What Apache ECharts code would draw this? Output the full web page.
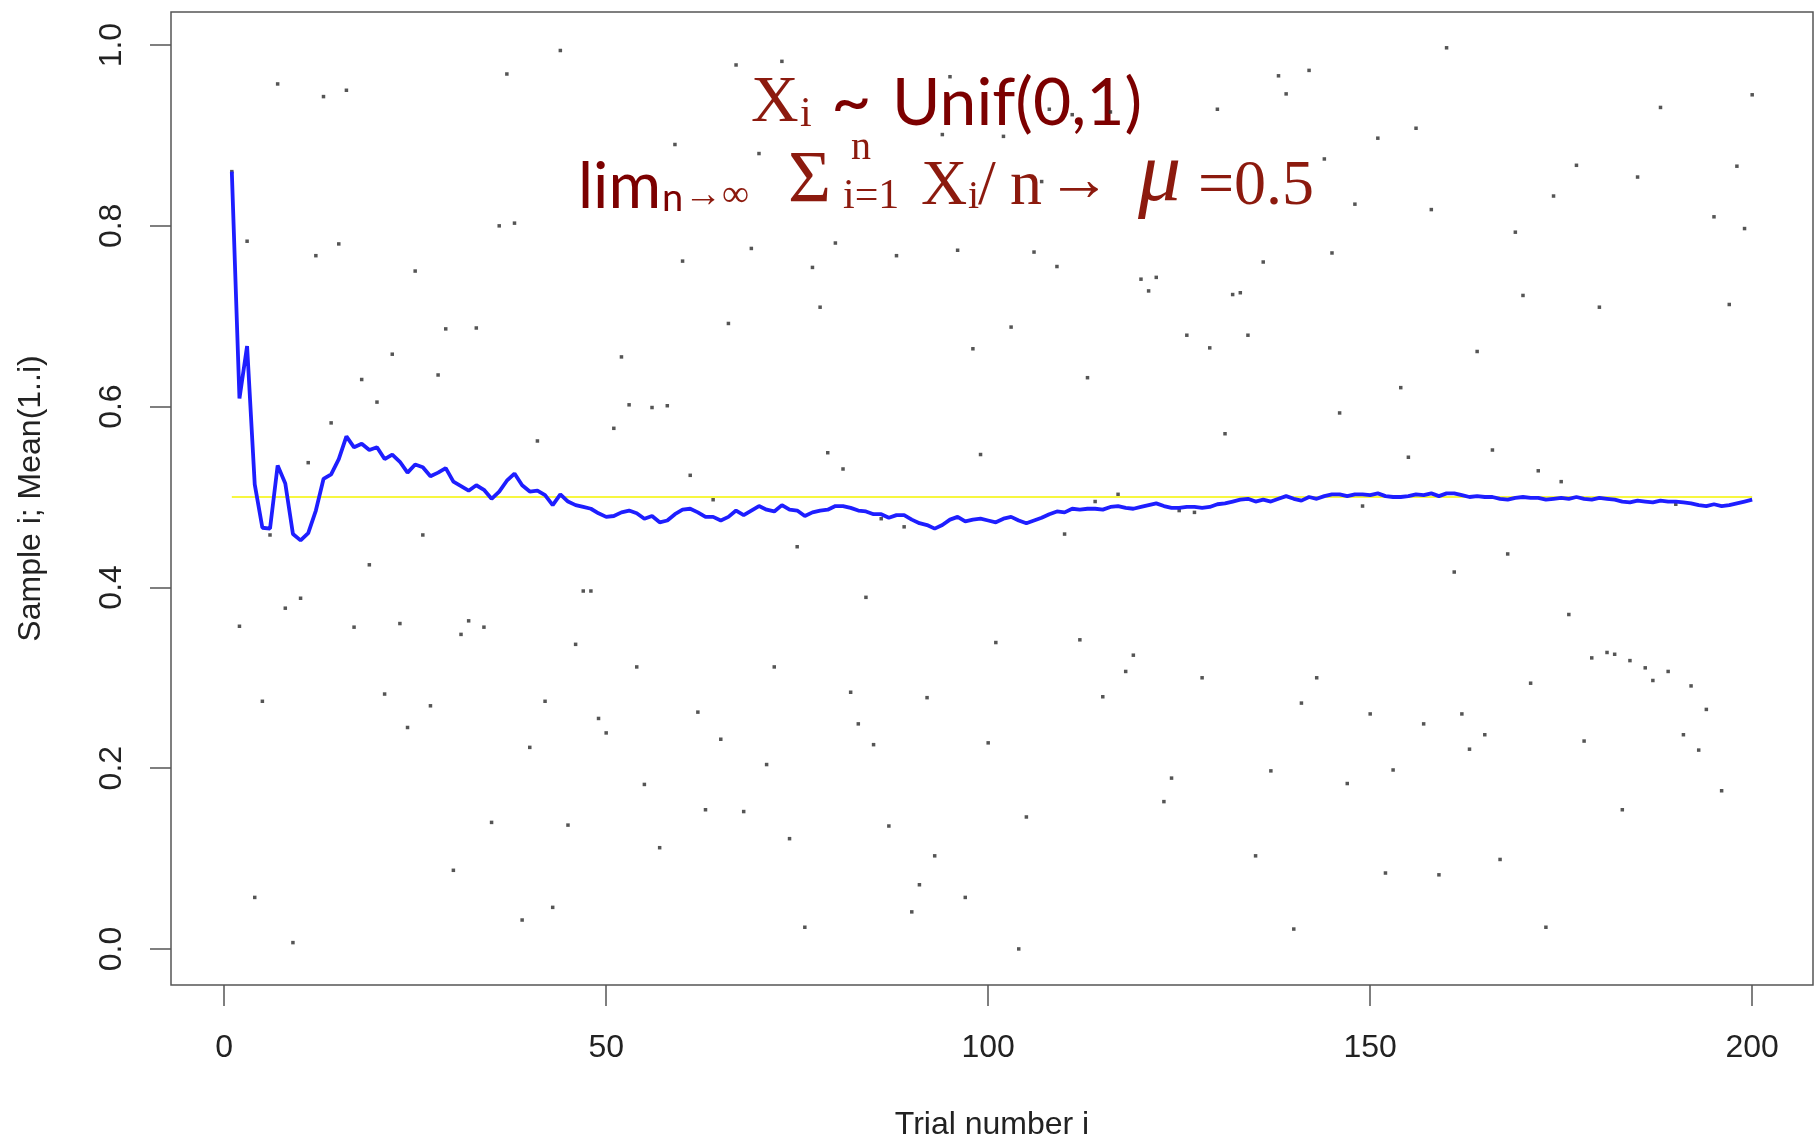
<!DOCTYPE html>
<html><head><meta charset="utf-8">
<script src="https://cdn.jsdelivr.net/npm/echarts@6/dist/echarts.min.js"></script>
<style>html,body{margin:0;padding:0;background:#fff}#c{width:1816px;height:1147px}</style>
</head><body><div id="c"></div>
<script>
// Sample i (black dots), i = 1..200
const samples = [
0.860,0.357,0.783,0.057,0.274,0.458,0.957,0.377,0.007,0.388,
0.538,0.767,0.943,0.582,0.780,0.950,0.356,0.630,0.425,0.605,
0.282,0.658,0.360,0.245,0.750,0.458,0.269,0.635,0.686,0.087,
0.348,0.363,0.687,0.356,0.140,0.800,0.968,0.803,0.032,0.223,
0.562,0.274,0.046,0.994,0.137,0.337,0.396,0.396,0.255,0.239,
0.576,0.655,0.602,0.312,0.182,0.599,0.112,0.601,0.890,0.761,
0.524,0.262,0.154,0.497,0.232,0.692,0.978,0.152,0.775,0.880,
0.204,0.312,0.982,0.122,0.445,0.024,0.754,0.710,0.549,0.781,
0.531,0.284,0.249,0.389,0.226,0.476,0.136,0.767,0.467,0.041,
0.071,0.278,0.103,0.901,0.965,0.773,0.057,0.664,0.547,0.228,
0.339,0.899,0.688,0.000,0.146,0.771,0.849,0.929,0.755,0.459,
0.923,0.342,0.632,0.495,0.279,0.926,0.503,0.307,0.325,0.741,
0.728,0.743,0.163,0.189,0.485,0.679,0.483,0.300,0.665,0.929,
0.570,0.724,0.726,0.679,0.103,0.760,0.197,0.966,0.946,0.022,
0.272,0.972,0.300,0.874,0.770,0.593,0.183,0.824,0.490,0.260,
0.897,0.084,0.198,0.621,0.544,0.908,0.249,0.818,0.082,0.997,
0.417,0.260,0.221,0.661,0.237,0.552,0.099,0.437,0.793,0.723,
0.294,0.529,0.024,0.833,0.517,0.370,0.867,0.230,0.322,0.710,
0.328,0.326,0.154,0.319,0.854,0.311,0.297,0.931,0.307,0.492,
0.237,0.291,0.220,0.265,0.810,0.175,0.713,0.866,0.797,0.945
];
// Mean(1..i) (blue line), i = 1..200
const meanLine = [
0.860,0.609,0.667,0.514,0.466,0.465,0.535,0.515,0.459,0.452,
0.460,0.485,0.520,0.525,0.542,0.567,0.555,0.559,0.552,0.555,
0.542,0.547,0.539,0.527,0.536,0.533,0.523,0.527,0.532,0.517,
0.512,0.507,0.513,0.508,0.498,0.506,0.518,0.526,0.513,0.506,
0.507,0.502,0.491,0.503,0.495,0.491,0.489,0.487,0.482,0.478,
0.479,0.483,0.485,0.482,0.476,0.479,0.472,0.474,0.481,0.486,
0.487,0.483,0.478,0.478,0.474,0.478,0.485,0.480,0.485,0.490,
0.486,0.484,0.491,0.486,0.485,0.479,0.483,0.485,0.486,0.490,
0.490,0.488,0.485,0.484,0.481,0.481,0.477,0.480,0.480,0.475,
0.471,0.469,0.465,0.469,0.475,0.478,0.473,0.475,0.476,0.474,
0.472,0.476,0.478,0.474,0.471,0.474,0.477,0.481,0.484,0.483,
0.487,0.486,0.487,0.487,0.486,0.489,0.490,0.488,0.487,0.489,
0.491,0.493,0.490,0.488,0.488,0.489,0.489,0.488,0.489,0.492,
0.493,0.495,0.497,0.498,0.495,0.497,0.495,0.498,0.501,0.498,
0.496,0.500,0.498,0.501,0.503,0.503,0.501,0.503,0.503,0.502,
0.504,0.501,0.500,0.500,0.501,0.503,0.502,0.504,0.501,0.504,
0.504,0.502,0.500,0.501,0.500,0.500,0.498,0.497,0.499,0.500,
0.499,0.499,0.497,0.498,0.499,0.498,0.500,0.498,0.497,0.499,
0.498,0.497,0.495,0.494,0.496,0.495,0.494,0.496,0.495,0.495,
0.494,0.493,0.491,0.490,0.492,0.490,0.491,0.493,0.495,0.497
];
const refTrials = [1, 200];
const refLevel = [0.5, 0.5];
const xTicks = [0, 50, 100, 150, 200];
const yTicks = [0, 0.2, 0.4, 0.6, 0.8, 1.0];
const xName = 'Trial number i';
const yName = 'Sample i; Mean(1..i)';

const samplePts = samples.map((v, k) => [k + 1, v]);
const meanPts = meanLine.map((v, k) => [k + 1, v]);
const refPts = refTrials.map((t, k) => [t, refLevel[k]]);

const SERIF = "'Liberation Serif', 'DejaVu Serif', serif";
const SANS = "Lato, 'Open Sans', sans-serif";
const C_SERIF = '#8c1a0e';
const C_SANS = '#7c0000';

function txt(s, left, baseline, size, family, color, style) {
  const y = baseline - 0.31 * size;
  return {
    type: 'text', x: left, y: y, z: 1,
    style: {
      text: s, fill: color,
      font: (style || '') + ' ' + size + 'px ' + family,
      align: 'left', verticalAlign: 'middle',
      textAlign: 'left', textVerticalAlign: 'middle'
    }
  };
}

const titleEls = [
  txt('X', 751, 124, 66, SERIF, C_SERIF),
  txt('i', 800, 128, 42, SERIF, C_SERIF),
  txt('~', 831, 124, 70, SANS, C_SANS),
  txt('Unif(0,1)', 892, 124, 66, SANS, C_SANS),
  txt('lim', 578, 207, 64, SANS, C_SANS),
  txt('n', 662, 211, 38, SANS, C_SANS),
  txt('\u2192\u221E', 684, 208, 38, SERIF, C_SERIF),
  txt('\u03A3', 788, 206, 74, SERIF, C_SERIF),
  txt('n', 851, 161, 40, SERIF, C_SERIF),
  txt('i=1', 843, 210, 42, SERIF, C_SERIF),
  txt('X', 921, 207, 64, SERIF, C_SERIF),
  txt('i', 968, 210, 40, SERIF, C_SERIF),
  txt('/', 978, 207, 64, SERIF, C_SERIF),
  txt('n', 1010, 207, 64, SERIF, C_SERIF),
  txt('\u2192', 1047, 203, 64, SERIF, C_SERIF),
  txt('\u03BC', 1138, 204, 86, SERIF, C_SERIF, 'italic'),
  txt('=0.5', 1198, 207, 64, SERIF, C_SERIF)
];

const axisCol = '#555';
const chart = echarts.init(document.getElementById('c'), null, {renderer: 'canvas'});
chart.setOption({
  animation: false,
  backgroundColor: '#ffffff',
  grid: {left: 171, top: 12, right: 3, bottom: 162, show: true,
         borderColor: axisCol, borderWidth: 1.5, backgroundColor: 'transparent'},
  xAxis: {
    type: 'value', min: -6.96, max: 207.96,
    name: xName, nameLocation: 'middle', nameGap: 124,
    nameTextStyle: {fontFamily: 'Liberation Sans', fontSize: 32, color: '#222'},
    axisLine: {show: false, onZero: false}, splitLine: {show: false},
    axisTick: {show: true, inside: false, length: 21, customValues: xTicks,
               lineStyle: {color: axisCol, width: 1.5}},
    axisLabel: {customValues: xTicks, margin: 47, fontFamily: 'Liberation Sans',
                fontSize: 32, color: '#222'}
  },
  yAxis: {
    type: 'value', min: -0.0399, max: 1.0366,
    name: yName, nameLocation: 'middle', nameGap: 124,
    nameTextStyle: {fontFamily: 'Liberation Sans', fontSize: 32, color: '#222'},
    axisLine: {show: false, onZero: false}, splitLine: {show: false},
    axisTick: {show: true, inside: false, length: 21, customValues: yTicks,
               lineStyle: {color: axisCol, width: 1.5}},
    axisLabel: {customValues: yTicks, margin: 43, rotate: 90, fontFamily: 'Liberation Sans',
                fontSize: 32, color: '#222', formatter: v => v.toFixed(1)}
  },
  graphic: {elements: titleEls},
  series: [
    {type: 'scatter', data: samplePts, symbol: 'rect', symbolSize: 3.5,
     itemStyle: {color: '#2a2a2a'}, z: 3, silent: true},
    {type: 'line', data: refPts, showSymbol: false, symbol: 'none',
     lineStyle: {color: '#f4f400', width: 1.6}, z: 4, silent: true},
    {type: 'line', data: meanPts, showSymbol: false, symbol: 'none',
     lineStyle: {color: '#1e1eff', width: 3.8}, z: 5, silent: true}
  ]
});
</script>
</body></html>
